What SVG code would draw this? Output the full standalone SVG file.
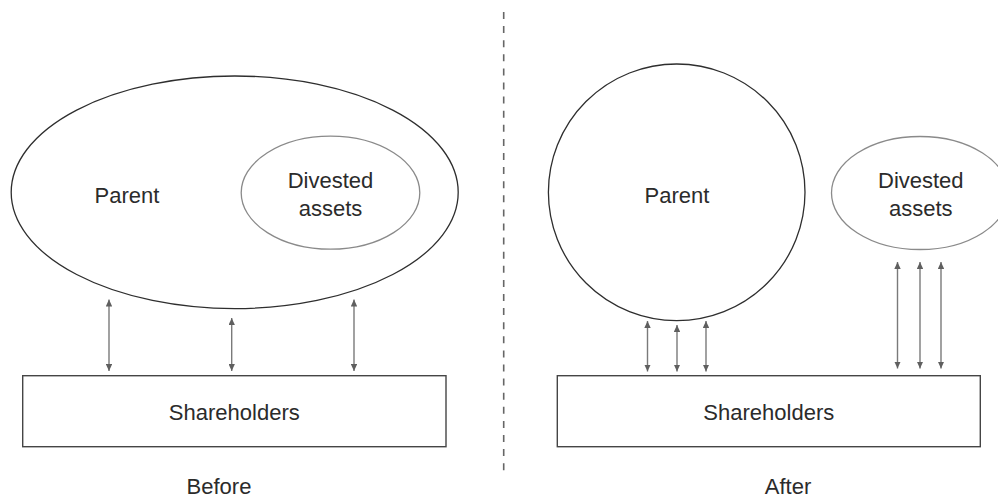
<svg xmlns="http://www.w3.org/2000/svg" width="998" height="498" viewBox="0 0 998 498">
  <style>
    .bg { fill: #ffffff; }
    .outer { fill: none; stroke: #2e2e2e; stroke-width: 1.3; }
    .inner { fill: none; stroke: #8a8a8a; stroke-width: 1.3; }
    .box { fill: none; stroke: #454545; stroke-width: 1.4; }
    .label { font-family: "Liberation Sans", Arial, Helvetica, sans-serif; font-size: 22px; fill: #2b2b2b; text-anchor: middle; }
    .flow { stroke: #7a7a7a; stroke-width: 1.4; marker-start: url(#head); marker-end: url(#head); }
    .divider { stroke: #666666; stroke-width: 1.6; stroke-dasharray: 7 7.1; }
  </style>
  <defs>
    <marker id="head" viewBox="0 0 7 6.4" refX="7" refY="3.2" markerWidth="7" markerHeight="6.4" markerUnits="userSpaceOnUse" orient="auto-start-reverse">
      <path d="M0,0 L7,3.2 L0,6.4 z" fill="#5f5f5f"/>
    </marker>
  </defs>

  <rect class="bg" x="0" y="0" width="998" height="498"/>

  <!-- Before: parent containing divested assets -->
  <g id="before-parent">
    <ellipse class="outer" cx="234.7" cy="192.3" rx="223.5" ry="116.3"/>
    <text class="label" x="127" y="202.5">Parent</text>
  </g>
  <g id="before-divested">
    <ellipse class="inner" cx="330.5" cy="192.7" rx="89.3" ry="56.5"/>
    <text class="label" x="330.5" y="187.7">Divested</text>
    <text class="label" x="330.5" y="215.7">assets</text>
  </g>
  <g id="before-shareholders">
    <rect class="box" x="22.7" y="375.7" width="423.3" height="71"/>
    <text class="label" x="234.3" y="420">Shareholders</text>
  </g>
  <g id="before-caption">
    <text class="label" x="219" y="494">Before</text>
  </g>

  <!-- After: separated entities -->
  <g id="after-parent">
    <circle class="outer" cx="676.7" cy="192.3" r="128.3"/>
    <text class="label" x="677" y="202.5">Parent</text>
  </g>
  <g id="after-divested">
    <ellipse class="inner" cx="920" cy="193" rx="88.5" ry="56.5"/>
    <text class="label" x="920.8" y="187.7">Divested</text>
    <text class="label" x="920.8" y="215.7">assets</text>
  </g>
  <g id="after-shareholders">
    <rect class="box" x="557.3" y="375.7" width="423" height="71"/>
    <text class="label" x="768.8" y="420">Shareholders</text>
  </g>
  <g id="after-caption">
    <text class="label" x="788" y="494">After</text>
  </g>

  <!-- Divider between the two states -->
  <g id="divider">
    <line class="divider" x1="503.7" y1="12" x2="503.7" y2="474"/>
  </g>

  <!-- Two-way links to shareholders -->
  <g id="connectors">
    <line class="flow" x1="109" y1="299.5" x2="109" y2="371"/>
    <line class="flow" x1="231.7" y1="318" x2="231.7" y2="371"/>
    <line class="flow" x1="354" y1="299.5" x2="354" y2="371"/>

    <line class="flow" x1="647.5" y1="321" x2="647.5" y2="371.5"/>
    <line class="flow" x1="677" y1="325" x2="677" y2="371.5"/>
    <line class="flow" x1="706" y1="321" x2="706" y2="371.5"/>

    <line class="flow" x1="897.5" y1="262" x2="897.5" y2="368.5"/>
    <line class="flow" x1="920" y1="262" x2="920" y2="368.5"/>
    <line class="flow" x1="941" y1="262" x2="941" y2="368.5"/>
  </g>
</svg>
